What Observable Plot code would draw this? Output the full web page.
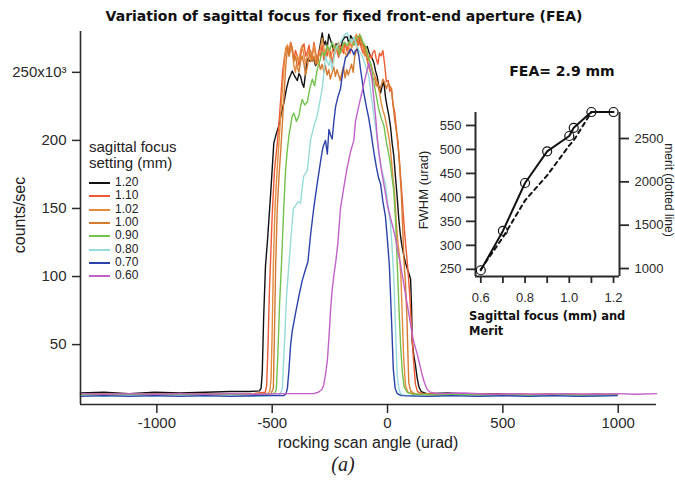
<!DOCTYPE html>
<html>
<head>
<meta charset="utf-8">
<script src="https://cdn.jsdelivr.net/npm/d3@7"></script>
<script src="https://cdn.jsdelivr.net/npm/@observablehq/plot@0.6"></script>
<style>
  html, body { margin: 0; padding: 0; background: #fff; }
  #page { position: relative; width: 675px; height: 481px; overflow: hidden; font-family: "Liberation Sans", Arial, sans-serif; color: #222; }
  .abs { position: absolute; white-space: nowrap; }
  #main, #insetA, #insetB { position: absolute; }
  #main svg, #insetA svg, #insetB svg { background: transparent !important; }
  .bold { font-family: "DejaVu Sans", sans-serif; font-weight: bold; color: #111; }
  .leg-row { position: absolute; left: 89px; height: 13px; }
  .leg-row span.sw { position: absolute; left: 0; top: 6px; width: 21px; height: 2px; }
  .leg-row span.tx { position: absolute; left: 26px; top: -1px; font-size: 12px; line-height: 14px; }
</style>
</head>
<body>
<div id="page">
  <div id="main" style="left:0;top:0"></div>
  <div id="insetA" style="left:400px;top:90px"></div>
  <div id="insetB" style="left:400px;top:90px"></div>
  <div class="abs bold" style="left:0;width:688px;top:8px;text-align:center;font-size:14px;">Variation of sagittal focus for fixed front-end aperture (FEA)</div>
  <div class="abs" style="left:368px;top:434px;transform:translateX(-50%);font-size:16px;">rocking scan angle (urad)</div>
  <div class="abs" style="left:20px;top:215px;transform:translate(-50%,-50%) rotate(-90deg);font-size:16px;">counts/sec</div>
  <div class="abs" style="left:343px;top:453px;transform:translateX(-50%);font-size:20px;font-family:'Liberation Serif',serif;font-style:italic;">(a)</div>
  <div class="abs" style="left:89px;top:139px;font-size:15px;line-height:15.5px;">sagittal focus<br>setting (mm)</div>
  <div id="legend"></div>
  <div class="abs bold" style="left:562px;top:63px;transform:translateX(-50%);font-size:14px;">FEA= 2.9 mm</div>
  <div class="abs" style="left:423px;top:190px;transform:translate(-50%,-50%) rotate(-90deg);font-size:13px;">FWHM (urad)</div>
  <div class="abs" style="left:669px;top:190px;transform:translate(-50%,-50%) rotate(90deg);font-size:12px;">merit (dotted line)</div>
  <div class="abs bold" style="left:469px;top:309px;font-size:11.5px;line-height:15px;">Sagittal focus (mm) and<br>Merit</div>
</div>
<script>
// ---------- main chart data: rocking scan angle (urad) vs counts/sec (x10^3) ----------
const settings = ["1.20", "1.10", "1.02", "1.00", "0.90", "0.80", "0.70", "0.60"];
const colors = ["#111111", "#ee5a34", "#e58b3d", "#d67a30", "#72c24c", "#98dcd9", "#2c42a8", "#c262c8"];

const s120 = [[-1331,14.5],[-1230,15],[-1120,14],[-1010,15],[-900,14.5],[-790,15],[-680,15.5],[-600,15.5],[-555,16],[-548,18],[-543,30],[-537,70],[-529,108],[-521,125],[-507,160],[-493,198],[-482,205],[-471,211],[-460,220],[-449,228],[-438,238],[-428,245],[-420,248],[-413,251],[-402,247],[-391,244],[-384,249],[-377,247],[-370,242],[-363,239],[-355,250],[-348,260],[-334,258],[-320,260],[-312,255],[-305,257],[-294,268],[-283,279],[-276,270],[-269,273],[-262,267],[-255,278],[-244,272],[-234,266],[-223,271],[-212,270],[-204,265],[-196,273],[-185,276],[-175,276],[-167,271],[-160,277],[-150,274],[-139,272],[-131,276],[-124,274],[-117,270],[-110,271],[-99,267],[-88,269],[-81,265],[-74,262],[-66,260],[-59,257],[-52,251],[-45,247],[-38,240],[-30,235],[-23,240],[-16,243],[-9,232],[-2,225],[6,218],[13,210],[20,198],[27,189],[35,172],[42,158],[49,142],[56,130],[63,122],[70,116],[78,110],[85,106],[93,102],[100,98],[104,78],[107,52],[114,42],[121,35],[128,26],[136,19],[146,15.5],[170,14],[260,14.5],[370,13.5],[480,14],[590,13],[700,13.5],[810,13],[910,13.5],[995,13]];

const s110 = [[-1331,13.5],[-1230,14],[-1120,13],[-1010,14],[-900,13.5],[-790,14],[-680,13.5],[-580,14],[-530,15],[-524,20],[-518,50],[-512,90],[-507,112],[-500,145],[-490,178],[-478,198],[-470,214],[-462,233],[-455,250],[-448,260],[-441,266],[-434,270],[-427,263],[-420,272],[-413,268],[-406,259],[-399,266],[-391,262],[-384,255],[-377,262],[-370,268],[-362,271],[-355,262],[-348,265],[-340,270],[-333,259],[-326,262],[-319,272],[-312,265],[-305,257],[-298,266],[-291,262],[-283,270],[-276,259],[-269,266],[-262,262],[-255,268],[-248,265],[-240,257],[-233,263],[-226,270],[-219,266],[-212,261],[-205,270],[-198,268],[-191,264],[-184,272],[-177,266],[-170,270],[-163,264],[-156,268],[-149,274],[-142,270],[-135,276],[-128,270],[-121,273],[-114,268],[-106,264],[-99,270],[-92,262],[-85,258],[-78,263],[-70,260],[-63,265],[-56,266],[-49,260],[-42,256],[-35,264],[-28,262],[-20,266],[-12,255],[-5,243],[3,244],[10,236],[17,238],[24,226],[31,221],[38,209],[45,197],[52,184],[60,166],[70,142],[78,124],[85,112],[95,90],[105,60],[112,40],[121,21],[130,15.5],[150,14],[250,13.5],[360,14],[470,13],[580,13.5],[690,13],[800,13.5],[900,13],[995,13.5]];

const s102 = [[-1331,13],[-1230,13.5],[-1120,13],[-1010,13.5],[-900,13],[-790,13.5],[-680,13],[-570,13.5],[-520,14],[-510,16],[-505,25],[-500,60],[-495,108],[-488,150],[-478,180],[-470,200],[-462,222],[-455,240],[-448,256],[-441,268],[-434,270],[-427,262],[-420,266],[-413,268],[-406,255],[-399,250],[-391,262],[-384,258],[-377,266],[-370,270],[-362,262],[-355,256],[-348,262],[-340,266],[-333,258],[-326,262],[-319,270],[-312,262],[-305,256],[-298,262],[-291,268],[-283,275],[-276,268],[-269,262],[-262,270],[-255,265],[-248,260],[-240,265],[-233,270],[-226,264],[-219,268],[-212,272],[-205,264],[-198,266],[-191,270],[-184,264],[-177,262],[-170,268],[-163,272],[-156,268],[-149,272],[-142,275],[-135,278],[-128,274],[-121,276],[-114,272],[-106,268],[-99,262],[-92,268],[-85,262],[-78,258],[-70,255],[-63,250],[-56,248],[-49,245],[-42,240],[-35,236],[-28,228],[-20,222],[-12,218],[-5,212],[3,205],[10,198],[17,185],[24,172],[31,160],[38,140],[45,125],[52,115],[58,100],[64,70],[70,40],[78,20],[88,15],[120,13.5],[230,13],[340,13.5],[450,13],[560,13.5],[670,12.5],[780,13],[890,12.5],[995,13]];

const s100 = [[-1331,13.5],[-1230,13],[-1120,13.5],[-1010,13],[-900,13.5],[-790,13],[-680,13.5],[-570,13],[-505,14],[-495,18],[-490,60],[-485,108],[-478,150],[-470,175],[-462,195],[-455,215],[-448,235],[-441,255],[-434,268],[-427,262],[-420,272],[-413,266],[-406,258],[-399,262],[-391,254],[-384,250],[-377,258],[-370,262],[-362,256],[-355,248],[-348,254],[-340,262],[-333,266],[-326,258],[-319,262],[-312,256],[-305,262],[-298,258],[-291,252],[-283,256],[-276,250],[-269,255],[-262,248],[-255,252],[-248,245],[-240,250],[-233,254],[-226,247],[-219,252],[-212,248],[-205,244],[-198,250],[-191,254],[-184,246],[-177,252],[-170,248],[-163,252],[-156,256],[-149,250],[-142,262],[-135,266],[-128,270],[-121,278],[-114,274],[-106,270],[-99,266],[-92,262],[-85,256],[-78,252],[-70,248],[-63,244],[-56,246],[-49,240],[-42,242],[-35,236],[-28,240],[-20,245],[-12,242],[-5,238],[3,242],[10,240],[17,238],[24,226],[31,215],[38,207],[45,200],[52,182],[60,160],[66,135],[71,112],[78,95],[84,70],[88,45],[92,22],[100,16],[120,13.5],[230,14],[340,13],[450,13.5],[560,13],[670,13.5],[780,13],[890,13.5],[995,13]];

const s090 = [[-1331,13],[-1230,13.5],[-1120,13],[-1010,13.5],[-900,13],[-790,13.5],[-680,13],[-560,13.5],[-490,14],[-482,17],[-476,40],[-468,80],[-460,108],[-450,150],[-442,178],[-435,192],[-427,204],[-420,211],[-413,218],[-406,220],[-395,214],[-384,218],[-377,225],[-370,230],[-359,226],[-348,228],[-337,238],[-326,245],[-316,240],[-305,252],[-294,258],[-283,265],[-272,262],[-262,270],[-251,266],[-240,272],[-230,268],[-219,270],[-208,263],[-198,268],[-188,272],[-175,270],[-160,274],[-146,270],[-131,276],[-117,277],[-106,272],[-95,269],[-85,262],[-74,257],[-66,250],[-59,242],[-48,232],[-38,223],[-27,216],[-16,211],[-6,200],[4,191],[13,182],[20,172],[27,163],[35,140],[42,110],[50,75],[57,48],[64,30],[72,19],[85,15],[110,13.5],[220,13],[330,13.5],[440,12.5],[550,13],[660,12.5],[770,13],[880,12.5],[995,13]];

const s080 = [[-1331,12.5],[-1230,12],[-1120,12.5],[-1010,12],[-900,12.5],[-790,12],[-680,12.5],[-560,12],[-470,13],[-462,15],[-456,18],[-447,50],[-438,85],[-428,108],[-418,130],[-408,150],[-399,152],[-388,155],[-377,154],[-370,165],[-363,174],[-355,176],[-348,178],[-340,190],[-334,200],[-320,210],[-305,218],[-294,228],[-283,238],[-276,250],[-269,262],[-262,258],[-254,255],[-247,260],[-240,252],[-232,260],[-225,267],[-215,270],[-204,272],[-189,277],[-175,279],[-165,275],[-155,272],[-146,276],[-135,270],[-124,266],[-110,262],[-95,255],[-81,247],[-70,232],[-59,218],[-48,205],[-38,191],[-27,180],[-16,172],[-9,168],[0,155],[6,146],[13,139],[20,120],[27,100],[35,60],[42,26],[50,17],[56,14],[80,12.5],[190,12],[300,12.5],[410,12],[520,12.5],[630,12],[740,12.5],[850,12],[995,12.5]];

const s070 = [[-1331,12],[-1230,12.5],[-1120,12],[-1010,12.5],[-900,12],[-790,12.5],[-680,12],[-560,12.5],[-450,12.5],[-440,14],[-434,18],[-428,30],[-420,50],[-413,60],[-400,72],[-385,85],[-370,97],[-356,105],[-345,111],[-334,130],[-320,150],[-305,168],[-290,185],[-280,195],[-269,200],[-261,190],[-254,208],[-247,204],[-240,201],[-232,215],[-225,225],[-215,232],[-204,238],[-196,248],[-189,255],[-182,261],[-175,262],[-167,265],[-160,267],[-153,266],[-146,263],[-139,266],[-131,267],[-124,262],[-117,252],[-110,244],[-103,235],[-92,225],[-81,216],[-70,204],[-59,191],[-48,180],[-38,172],[-30,168],[-20,155],[-9,144],[-1,128],[8,108],[18,65],[25,32],[33,18],[42,14],[60,12.5],[170,12],[280,12.5],[390,12],[500,12.5],[610,12],[720,12.5],[830,12],[995,12.5]];

const s060 = [[-1331,14],[-1230,13.5],[-1120,14],[-1010,13.5],[-900,14],[-790,13.5],[-680,14],[-560,13.5],[-440,14],[-321,14],[-300,15],[-285,17],[-277,20],[-269,28],[-261,38],[-254,55],[-247,75],[-240,90],[-232,102],[-225,110],[-215,125],[-204,150],[-190,165],[-175,180],[-160,192],[-146,200],[-139,214],[-125,225],[-110,236],[-95,247],[-88,252],[-81,257],[-74,252],[-66,243],[-59,230],[-52,218],[-45,203],[-38,192],[-30,182],[-20,172],[-10,162],[0,152],[13,143],[25,135],[35,128],[45,118],[55,110],[70,95],[85,80],[100,65],[110,55],[120,48],[129,43],[140,35],[150,28],[160,22],[172,17],[185,15],[220,14],[330,14.5],[440,13.5],[550,14],[660,13.5],[770,14],[880,13.5],[990,14],[1080,13.5],[1166,14]];

const seriesData = [s120, s110, s102, s100, s090, s080, s070, s060];

// ---------- inset data ----------
const focus = [0.6, 0.7, 0.8, 0.9, 1.0, 1.02, 1.1, 1.2];
const fwhm  = [248, 330, 430, 496, 528, 545, 578, 578];
const merit = [990, 1360, 1785, 2074, 2420, 2478, 2805, 2805];

const xTicksMain = [-1000, -500, 0, 500, 1000];
const yTicksMain = [50, 100, 150, 200, 250];
const xTicksInset = [0.6, 0.7, 0.8, 0.9, 1.0, 1.1, 1.2];
const yTicksFwhm = [250, 300, 350, 400, 450, 500, 550];
const yTicksMerit = [1000, 1500, 2000, 2500];

// ---------- build ----------
const rows = seriesData.flatMap((arr, i) => arr.map(([x, y]) => ({x, y, s: settings[i]})));
const axisColor = "#2a2a2a";
const xMin = -1331, xMax = 1166, yMin = 6, yMax = 280;

const main = Plot.plot({
  width: 675, height: 481,
  marginTop: 31, marginBottom: 77, marginLeft: 80, marginRight: 19,
  style: {fontFamily: "Liberation Sans, Arial, sans-serif", fontSize: "15px", color: axisColor, background: "transparent"},
  x: {domain: [xMin, xMax]},
  y: {domain: [yMin, yMax]},
  color: {domain: settings, range: colors},
  marks: [
    Plot.line(rows, {x: "x", y: "y", z: "s", stroke: "s", strokeWidth: 1.4, curve: "linear"}),
    Plot.ruleX([xMin], {stroke: axisColor, strokeWidth: 1.6}),
    Plot.ruleY([yMin], {stroke: axisColor, strokeWidth: 1.6}),
    Plot.axisX({ticks: xTicksMain, tickSize: 9, tickPadding: 4, label: null, tickFormat: d => String(d), fontSize: 15, strokeWidth: 1.5}),
    Plot.axisY({ticks: yTicksMain, tickSize: 8, tickPadding: 6, label: null, tickFormat: d => d === 250 ? "250x10³" : String(d), fontSize: 15, strokeWidth: 1.5})
  ]
});
document.getElementById("main").appendChild(main);

// legend
const leg = document.getElementById("legend");
settings.forEach((s, i) => {
  const row = document.createElement("div");
  row.className = "leg-row";
  row.style.top = (176 + i * 13.3) + "px";
  row.innerHTML = `<span class="sw" style="background:${colors[i]}"></span><span class="tx">${s}</span>`;
  leg.appendChild(row);
});

const insetRows = focus.map((f, i) => ({f, w: fwhm[i], m: merit[i]}));
const ix = [0.576, 1.227];
const insetCommon = {
  width: 275, height: 260, marginLeft: 75, marginRight: 56, marginTop: 22, marginBottom: 74,
  style: {fontFamily: "Liberation Sans, Arial, sans-serif", fontSize: "13px", color: axisColor, background: "transparent"}
};

const insetA = Plot.plot({
  ...insetCommon,
  x: {domain: ix},
  y: {domain: [235, 577]},
  marks: [
    Plot.ruleX([ix[0]], {stroke: axisColor, strokeWidth: 2}),
    Plot.ruleY([235], {stroke: axisColor, strokeWidth: 2}),
    Plot.line(insetRows, {x: "f", y: "w", stroke: "#111", strokeWidth: 2}),
    Plot.dot(insetRows, {x: "f", y: "w", r: 4.5, stroke: "#111", fill: "none", strokeWidth: 1.2}),
    Plot.axisX({ticks: xTicksInset, tickSize: 7, tickPadding: 9, label: null, strokeWidth: 1.8,
      tickFormat: d => (Math.round(d * 10) % 2 === 0 ? d.toFixed(1) : "")}),
    Plot.axisY({ticks: yTicksFwhm, tickSize: 9, tickPadding: 5, label: null, strokeWidth: 1.8, tickFormat: d => String(d)})
  ]
});
document.getElementById("insetA").appendChild(insetA);

const insetB = Plot.plot({
  ...insetCommon,
  x: {domain: ix, axis: null},
  y: {domain: [908, 2800], axis: null},
  marks: [
    Plot.ruleX([ix[1]], {stroke: axisColor, strokeWidth: 2}),
    Plot.line(insetRows, {x: "f", y: "m", stroke: "#111", strokeWidth: 2, strokeDasharray: "4,4"}),
    Plot.axisY({anchor: "right", ticks: yTicksMerit, tickSize: 9, tickPadding: 6, label: null, strokeWidth: 1.8, tickFormat: d => String(d)})
  ]
});
document.getElementById("insetB").appendChild(insetB);
</script>
</body>
</html>
